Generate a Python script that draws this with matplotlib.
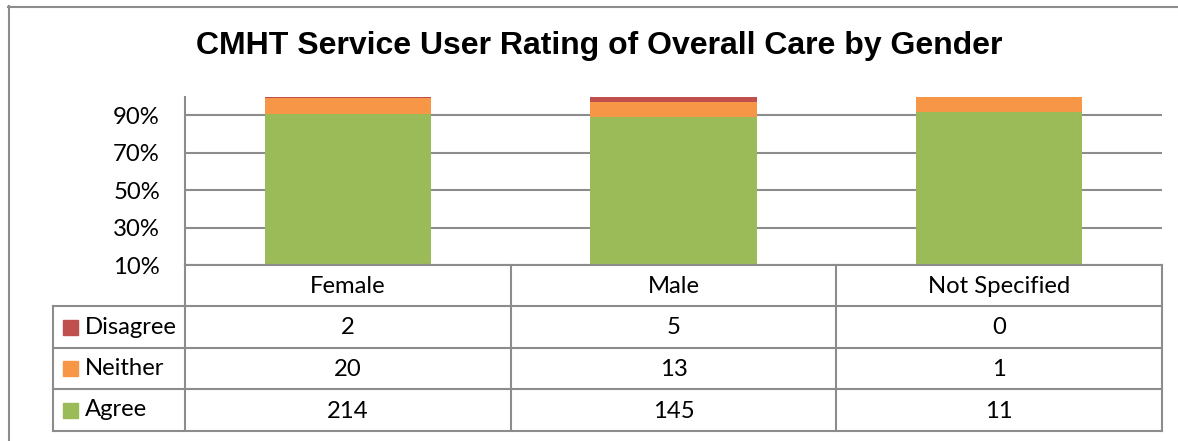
import matplotlib
matplotlib.use("Agg")
import matplotlib.pyplot as plt
from matplotlib.patches import Rectangle
from matplotlib.lines import Line2D
import matplotlib.transforms as mtransforms
import numpy as np

categories = ["Female", "Male", "Not Specified"]
series_names = ["Disagree", "Neither", "Agree"]
disagree = [2, 5, 0]
neither = [20, 13, 1]
agree = [214, 145, 11]
colors = {"Disagree": "#C0504D", "Neither": "#F79646", "Agree": "#9BBB59"}
yticks = [0.10, 0.30, 0.50, 0.70, 0.90]
ytick_labels = ["10%", "30%", "50%", "70%", "90%"]
title = "CMHT Service User Rating of Overall Care by Gender"

W, H = 1178, 441
fig = plt.figure(figsize=(W / 100, H / 100), dpi=100)

def fx(px):
    return px / W

def fy(py):
    return 1 - py / H

FS = 17.2
gray = "#8C8C8C"
# outer chart border (top and left visible)
fig.add_artist(Line2D([fx(8), fx(1180)], [fy(6.5), fy(6.5)], color=gray, lw=1.5))
fig.add_artist(Line2D([fx(8.5), fx(8.5)], [fy(6), fy(445)], color=gray, lw=1.5))

ax_l, ax_r, ax_t, ax_b = 185, 1162, 96.5, 265
ax = fig.add_axes([fx(ax_l), fy(ax_b), fx(ax_r - ax_l), (ax_b - ax_t) / H])

x = np.arange(len(categories))
tot = np.array(disagree) + np.array(neither) + np.array(agree)
a_p = np.array(agree) / tot
n_p = np.array(neither) / tot
d_p = np.array(disagree) / tot
bw = 0.51
ax.bar(x, a_p, bw, color=colors["Agree"], zorder=3)
ax.bar(x, n_p, bw, bottom=a_p, color=colors["Neither"], zorder=3)
ax.bar(x, d_p, bw, bottom=a_p + n_p, color=colors["Disagree"], zorder=3)

ax.set_xlim(-0.5, len(categories) - 0.5)
ax.set_ylim(0.10, 1.0)
ax.set_yticks(yticks)
ax.set_yticklabels(ytick_labels, fontsize=FS, family="Lato")
ax.tick_params(axis="y", length=0, pad=18)
ax.set_xticks([])
for s in ["top", "right", "bottom"]:
    ax.spines[s].set_visible(False)
ax.spines["left"].set_color(gray)
ax.spines["left"].set_linewidth(1.5)
ax.grid(axis="y", color=gray, lw=1.5, zorder=0)
ax.set_axisbelow(True)

# title
fig.text(fx(599), fy(46), title, ha="center", va="center", fontsize=23,
         fontweight="bold", family="Liberation Sans")

# data table
trans = mtransforms.blended_transform_factory(ax.transData, fig.transFigure)
row_edges = [265, 306, 348, 389, 431]
left_x = -0.5 - (ax_l - 53) / ((ax_r - ax_l) / 3)
right_x = len(categories) - 0.5

def hline(py, x0, x1):
    fig.add_artist(Line2D([x0, x1], [fy(py), fy(py)], color=gray, lw=1.5,
                          transform=trans))

def vline(xd, p0, p1):
    fig.add_artist(Line2D([xd, xd], [fy(p0), fy(p1)], color=gray, lw=1.5,
                          transform=trans))

hline(row_edges[0], -0.5, right_x)
for py in row_edges[1:]:
    hline(py, left_x, right_x)
vline(left_x, row_edges[1], row_edges[-1])
for k in range(len(categories) + 1):
    vline(-0.5 + k, row_edges[0], row_edges[-1])

for i, c in enumerate(categories):
    yc = (row_edges[0] + row_edges[1]) / 2 + 1
    fig.text(i, fy(yc), c, transform=trans, ha="center", va="center",
             fontsize=FS, family="Lato")

rows = [("Disagree", disagree), ("Neither", neither), ("Agree", agree)]
msize = 15 / ((ax_r - ax_l) / 3)
for r, (name, vals) in enumerate(rows):
    top, bot = row_edges[r + 1], row_edges[r + 2]
    yc = (top + bot) / 2
    for i, v in enumerate(vals):
        fig.text(i, fy(yc + 1), str(v), transform=trans, ha="center",
                 va="center", fontsize=FS, family="Lato")
    mx = -0.5 - (ax_l - 63) / ((ax_r - ax_l) / 3)
    fig.add_artist(Rectangle((mx, fy(yc + 7.5)), msize, 15 / H,
                             transform=trans, color=colors[name]))
    tx = -0.5 - (ax_l - 85) / ((ax_r - ax_l) / 3)
    fig.text(tx, fy(yc), name, transform=trans, ha="left", va="center",
             fontsize=FS, family="Lato")

fig.savefig("out.png", dpi=100)
